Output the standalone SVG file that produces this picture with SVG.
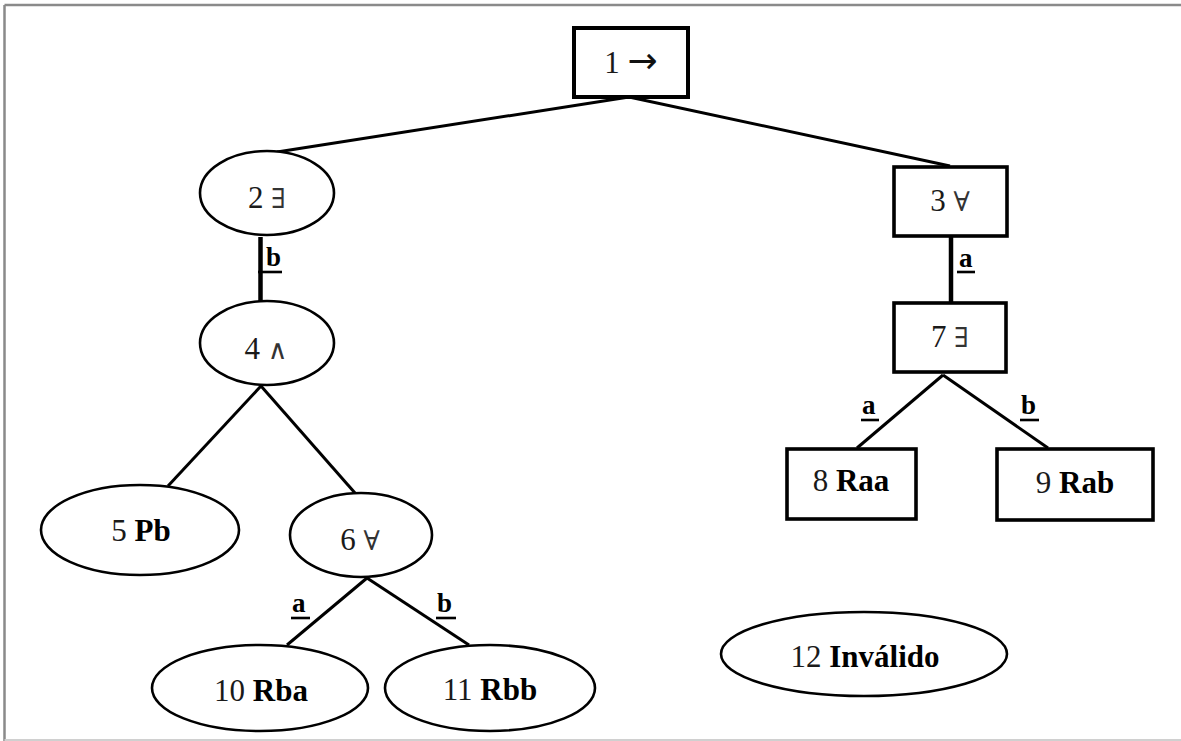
<svg xmlns="http://www.w3.org/2000/svg" width="1181" height="741" viewBox="0 0 1181 741">
<style>
.frame{stroke:#8a8a8a;stroke-width:2.5;fill:none}
.box{fill:#fff;stroke:#000;stroke-width:4}
.oval{fill:#fff;stroke:#000;stroke-width:2.6}
.edge{stroke:#000;stroke-width:3;fill:none}
.edge.thick{stroke-width:4.5}
text{font-family:'Liberation Serif','Tinos','Times New Roman','DejaVu Serif',serif}
.t{font-size:31px;fill:#1a1a1a;text-anchor:middle}
.b{font-weight:bold;fill:#000}
.sym{font-family:'DejaVu Serif','Liberation Serif',serif;font-size:27px;fill:#333}
.arrow{font-family:'DejaVu Sans','Liberation Sans',sans-serif;font-size:36px;fill:#111}
.lbl{font-size:27px;font-weight:bold;fill:#000}
.ul{stroke:#000;stroke-width:2.6}
</style>
<rect width="1181" height="741" fill="#fff"/>
<g id="frame">
<line class="frame" x1="4.5" y1="5" x2="1181" y2="5"/>
<line class="frame" x1="4.5" y1="5" x2="4.5" y2="741"/>
<line x1="4.5" y1="740" x2="1181" y2="740" stroke="#d0d0d0" stroke-width="2"/>
</g>
<g id="connectors">
<line class="edge" x1="629" y1="97" x2="277" y2="152"/>
<line class="edge" x1="629" y1="97" x2="950" y2="166"/>
<line class="edge thick" x1="260.5" y1="237" x2="260.5" y2="302"/>
<line class="edge thick" x1="951" y1="236" x2="951" y2="302"/>
<line class="edge" x1="261" y1="386" x2="168" y2="486"/>
<line class="edge" x1="261" y1="386" x2="355" y2="493"/>
<line class="edge" x1="367" y1="578" x2="287" y2="645"/>
<line class="edge" x1="367" y1="578" x2="469" y2="645"/>
<line class="edge" x1="943" y1="375" x2="857" y2="448"/>
<line class="edge" x1="943" y1="375" x2="1048" y2="448"/>
<g id="edge-labels">
<text class="lbl" x="266" y="266">b</text><line class="ul" x1="258" y1="272" x2="282" y2="272"/>
<text class="lbl" x="959" y="267">a</text><line class="ul" x1="957" y1="272" x2="975" y2="272"/>
<text class="lbl" x="292" y="612">a</text><line class="ul" x1="291" y1="618" x2="310" y2="618"/>
<text class="lbl" x="437" y="612">b</text><line class="ul" x1="436" y1="618" x2="456" y2="618"/>
<text class="lbl" x="862" y="414">a</text><line class="ul" x1="861" y1="420" x2="879" y2="420"/>
<text class="lbl" x="1021" y="414">b</text><line class="ul" x1="1020" y1="420" x2="1039" y2="420"/>
</g>
</g>
<g id="n1"><rect class="box" x="574" y="28" width="114" height="69"/><text class="t" x="631" y="73">1 <tspan class="arrow">→</tspan></text></g>
<g id="n2"><ellipse class="oval" cx="267" cy="193" rx="67" ry="42"/><text class="t" x="267" y="208">2 <tspan class="sym">∃</tspan></text></g>
<g id="n3"><rect class="box" x="894" y="167" width="113" height="69" style="stroke-width:3.6"/><text class="t" x="950" y="211">3 <tspan class="sym">∀</tspan></text></g>
<g id="n4"><ellipse class="oval" cx="267" cy="343" rx="67" ry="42"/><text class="t" x="266" y="359">4 <tspan class="sym">∧</tspan></text></g>
<g id="n5"><ellipse class="oval" cx="140" cy="530" rx="99" ry="45"/><text class="t" x="141" y="541">5 <tspan class="b">Pb</tspan></text></g>
<g id="n6"><ellipse class="oval" cx="361" cy="535" rx="71" ry="42"/><text class="t" x="360" y="550">6 <tspan class="sym">∀</tspan></text></g>
<g id="n7"><rect class="box" x="894" y="303" width="112" height="69" style="stroke-width:3.6"/><text class="t" x="950" y="347">7 <tspan class="sym">∃</tspan></text></g>
<g id="n8"><rect class="box" x="787" y="449" width="129" height="70" style="stroke-width:3.6"/><text class="t" x="851" y="491">8 <tspan class="b">Raa</tspan></text></g>
<g id="n9"><rect class="box" x="997" y="449" width="156" height="71" style="stroke-width:3.6"/><text class="t" x="1075" y="493">9 <tspan class="b">Rab</tspan></text></g>
<g id="n10"><ellipse class="oval" cx="260" cy="688" rx="108" ry="43"/><text class="t" x="261" y="701">10 <tspan class="b">Rba</tspan></text></g>
<g id="n11"><ellipse class="oval" cx="490" cy="688" rx="105" ry="43"/><text class="t" x="490" y="700">11 <tspan class="b">Rbb</tspan></text></g>
<g id="n12"><ellipse class="oval" cx="864" cy="654" rx="143" ry="42"/><text class="t" x="865" y="667">12 <tspan class="b">Inválido</tspan></text></g>
</svg>
